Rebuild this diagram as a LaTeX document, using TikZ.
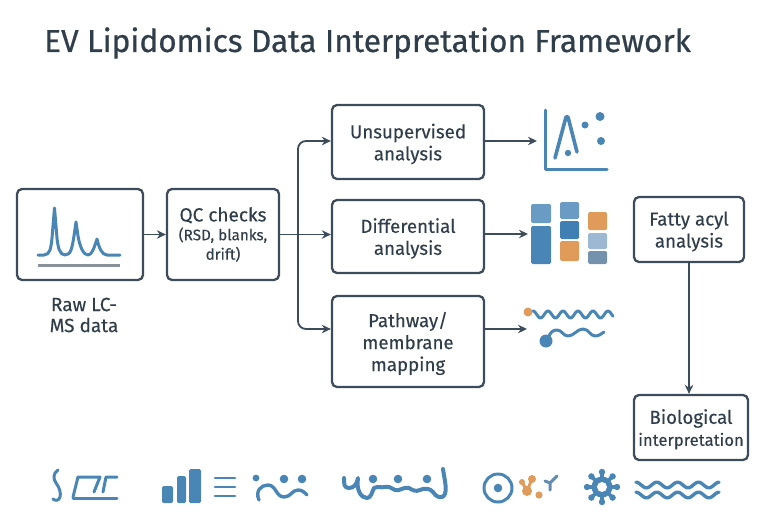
\documentclass[tikz,border=0pt]{standalone}
\usepackage{fontspec}
\setmainfont{Fira Sans}[FakeBold=0.25]
\usetikzlibrary{arrows.meta}

\definecolor{inkdark}{HTML}{2F3E4A}
\definecolor{boxline}{HTML}{3D4C5A}
\definecolor{iconblue}{HTML}{4A86B5}
\definecolor{iconlight}{HTML}{6A9BC4}
\definecolor{icondeep}{HTML}{3F7FB3}
\definecolor{iconorange}{HTML}{E09A5A}
\definecolor{iconpale}{HTML}{9DB8D2}
\definecolor{iconslate}{HTML}{7492AD}
\definecolor{icongrey}{HTML}{8A9299}

\tikzset{
	stage/.style={draw=boxline,line width=2.3pt,rounded corners=5pt,fill=white,text=inkdark,align=center,inner sep=0pt,text depth=-1pt,font=\fontsize{18.7}{22}\selectfont},
	link/.style={draw=boxline,line width=1.8pt,-{Stealth[length=9pt,width=8.5pt]}},
	iconline/.style={draw=iconblue,line width=3pt,line cap=round,line join=round},
	blockblue/.style={rounded corners=1.5pt}
}

\begin{document}
\begin{tikzpicture}[x=1pt,y=-1pt]
		\useasboundingbox (0,0) rectangle (768,512);
		\node[text=inkdark,anchor=west,inner sep=0pt,font=\fontsize{31.6}{36}\selectfont] (Title) at (44,43) {\addfontfeature{FakeBold=0.6}EV Lipidomics Data Interpretation Framework};

		\node[stage,minimum width=126pt,minimum height=91pt] (Raw) at (80,234.5) {};
		\node[stage,minimum width=112pt,minimum height=91pt] (QC) at (223,234.5) {};
		\node[stage,minimum width=152pt,minimum height=74pt] (Unsup) at (408,142) {Unsupervised\\analysis};
		\node[stage,minimum width=152pt,minimum height=73pt] (Diff) at (408,236.5) {Differential\\analysis};
		\node[stage,minimum width=152pt,minimum height=91pt] (Path) at (408,341.5) {Pathway/\\membrane\\mapping};
		\node[stage,minimum width=110pt,minimum height=65pt] (Fatty) at (689,229.5) {Fatty acyl\\analysis};
		\node[stage,minimum width=114pt,minimum height=65pt] (Bio) at (691,427.5) {Biological\\{\fontsize{16.6}{22}\selectfont interpretation}};

		\node[text=inkdark,align=center,inner sep=0pt,font=\fontsize{19}{21}\selectfont] (RawLabel) at (84,315) {Raw LC-\\MS data};
		\node[text=inkdark,align=center,inner sep=0pt] (QCLabel) at (223,234.5) {{\fontsize{19}{22}\selectfont QC checks}\\[3pt]{\fontsize{15.2}{20}\selectfont (RSD, blanks,}\\[3pt]{\fontsize{15.2}{19}\selectfont drift)}};

		\coordinate (Branch) at (298,234);
		\coordinate (UnsupEnd) at (537,141);
		\coordinate (DiffEnd) at (528,234);
		\coordinate (PathEnd) at (527,329);

		\draw[link] (Raw.east) -- (QC.west);
		\draw[link] (QC.east) -- (Diff.west |- QC.east);
		\draw[link,rounded corners=8pt] (Branch) |- (Unsup.west |- UnsupEnd);
		\draw[link,rounded corners=8pt] (Branch) |- (Path.west |- PathEnd);
		\draw[link] (Unsup.east |- UnsupEnd) -- (UnsupEnd);
		\draw[link] (Diff.east |- DiffEnd) -- (DiffEnd);
		\draw[link] (Path.east |- PathEnd) -- (PathEnd);
		\draw[link] (Fatty.south) -- (Fatty.south |- Bio.north);

		% peaks in the raw box
		\draw[iconline] (38,255) -- (44,255) .. controls (50,255) and (51,248) .. (52,238) -- (54.5,208) -- (57,238) .. controls (58,248) and (60,255) .. (65,255) .. controls (71,255) and (72,248) .. (74,236) -- (76,222) -- (78,236) .. controls (80,248) and (84,255) .. (88,255) .. controls (92,255) and (94,248) .. (97,239) .. controls (99,248) and (102,255) .. (107,255) -- (120,255);
		\draw[icongrey,line width=3pt] (38,265) -- (120,265);

		% scatter
		\draw[iconline] (545,110) -- (545,169) -- (607,169);
		\draw[iconline,line width=3.6pt] (555,158) -- (566,117) -- (568,117) -- (577,152);
		\fill[iconblue] (568,153) circle (3.2pt) (585,125) circle (3.5pt) (600,116.5) circle (4.5pt) (601,141) circle (4pt);

		% stacked bars
		\fill[iconlight,blockblue] (531,204) rectangle (551,223);
		\fill[iconblue,blockblue] (531,226) rectangle (551,264);
		\fill[iconlight,blockblue] (560,202) rectangle (579,219);
		\fill[icondeep,blockblue] (560,221) rectangle (579,239);
		\fill[iconorange,blockblue] (560,241) rectangle (579,261);
		\fill[iconorange,blockblue] (588,212) rectangle (607,230);
		\fill[iconpale,blockblue] (588,233) rectangle (607,249);
		\fill[iconslate,blockblue] (588,251) rectangle (607,264);

		% lipid tails
		\draw[iconline,domain=0:80,samples=100] plot ({533+\x},{314.5-3.5*cos(24*\x)});
		\fill[iconorange] (528,312) circle (4.5pt);
		\draw[iconline] (548,339) .. controls (550,332) and (553,330) .. (557,330) .. controls (562,330) and (563,336) .. (568,336) .. controls (574,336) and (577,329) .. (583,329) .. controls (589,329) and (590,336) .. (595,336) .. controls (599,336) and (601,334) .. (604,332);
		\fill[iconblue] (546,341) circle (6.5pt);

		% bottom row
		\draw[iconline] (58,470) .. controls (53,473) and (53,479) .. (56,483) .. controls (60,488) and (61,494) .. (60,497) .. controls (59,501) and (55,501) .. (53,499);
		\draw[iconline] (73,497) -- (78,477) -- (100,477) -- (94,492);
		\draw[iconline] (103,492) -- (106,477) -- (117,477);
		\draw[iconline] (73,498) -- (117,498);

		\fill[iconblue,blockblue] (162,486) rectangle (173,503);
		\fill[iconblue,blockblue] (177,476) rectangle (186,503);
		\fill[iconblue,blockblue] (189,469) rectangle (201,503);
		\draw[iconline,line width=2.8pt] (215,478) -- (235,478) (215,487) -- (235,487) (215,496) -- (235,496);

		\fill[iconblue] (256,478) circle (3.4pt) (284,479) circle (4.3pt) (302,479) circle (4.3pt);
		\draw[iconline,line width=3.4pt] (259,500) .. controls (255,491) and (261,485) .. (268,485) .. controls (276,485) and (276,497) .. (284,497) .. controls (291,497) and (292,490) .. (298,490) .. controls (302,490) and (304,492) .. (307,495);

		\draw[iconline,line width=4pt] (344,478) .. controls (344,484) and (344,488) .. (349,488) .. controls (354,488) and (357,484) .. (358,478) .. controls (356,490) and (361,498) .. (367,498) .. controls (371,498) and (372,492) .. (374,488) .. controls (378,486) and (381,488) .. (385,487) .. controls (389,486) and (391,488) .. (395,490) .. controls (399,492) and (404,486) .. (409,488) .. controls (412,490) and (416,492) .. (420,490) .. controls (424,488) and (430,488) .. (433,492) .. controls (436,497) and (442,500) .. (445,494) .. controls (447,487) and (444,477) .. (443,469);
		\fill[iconblue] (373,479) circle (4.3pt) (398,479) circle (4.3pt) (427,479) circle (4.3pt);

		\draw[iconline] (498,488) circle (14pt);
		\fill[iconblue] (498,488) circle (4.3pt);

		\draw[iconorange,line width=3pt] (522,482) -- (527,491) -- (532,479);
		\fill[iconorange] (532,479) circle (4pt) (522,482) circle (3pt) (527,491) circle (5pt) (539,495) circle (3.6pt);
		\draw[iconline,draw=iconslate!60!iconblue] (557,476) -- (550,483) -- (545,481) (550,483) -- (550,490);

		\foreach \a in {0,45,...,315} {
			\draw[iconblue,line width=3.6pt] (602,487) -- ++(\a:13.5);
			\fill[iconblue] (602,487) ++(\a:15) circle (3.2pt);
		}
		\fill[iconblue] (602,487) circle (10.5pt);
		\fill[white] (602,487) circle (5pt);

		\draw[iconline,line width=3.4pt,domain=0:83,samples=120] plot ({636+\x},{485-2.8*cos(17.3*\x)});
		\draw[iconline,line width=3.4pt,domain=0:83,samples=120] plot ({636+\x},{495-2.8*cos(17.3*\x)});
	\end{tikzpicture}
\end{document}
